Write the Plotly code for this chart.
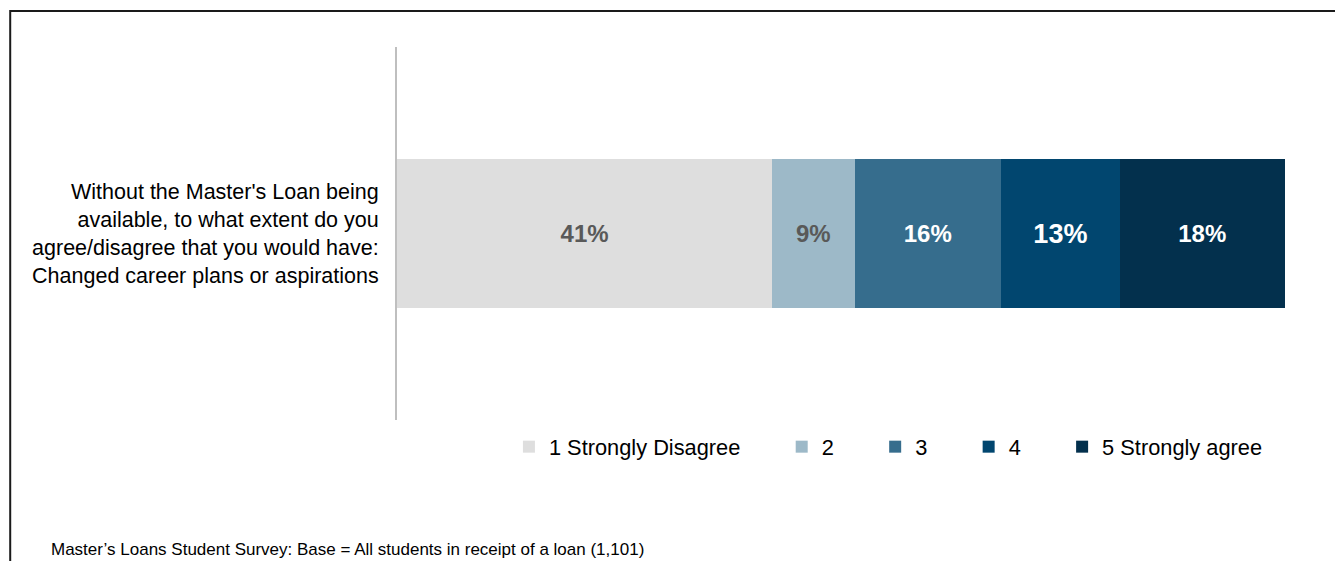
import plotly.graph_objects as go

# Data
category = ["Without the Master's Loan being<br>available, to what extent do you<br>agree/disagree that you would have:<br>Changed career plans or aspirations"]
series_names = ["1 Strongly Disagree", "2", "3", "4", "5 Strongly agree"]
series_values = [41, 9, 16, 13, 18]
series_colors = ["#DEDEDE", "#9DB9C8", "#366D8D", "#01466F", "#03304D"]
label_colors = ["#595959", "#595959", "#FFFFFF", "#FFFFFF", "#FFFFFF"]
label_sizes = [24, 24, 24, 27, 24]
footnote = "Master\u2019s Loans Student Survey: Base = All students in receipt of a loan (1,101)"

pad = ["\u00a0" * 6, "\u00a0" * 6, "\u00a0" * 6, "\u00a0" * 6, ""]

fig = go.Figure()
for name, val, col, lc, ls, p in zip(series_names, series_values, series_colors, label_colors, label_sizes, pad):
    fig.add_trace(go.Bar(
        y=category, x=[val], name=name + p, orientation="h",
        marker=dict(color=col, line=dict(width=0)),
        text=[f"{val}%"], textposition="inside", insidetextanchor="middle",
        textfont=dict(color=lc, size=ls, family="Liberation Sans, Arial", weight="bold"),
        constraintext="none", width=0.4,
    ))

OFF = 8  # page body margin
W, H = 1335, 553
L, R, T, B = 389, 30.5, 39, 141
pw = W - L - R
ph = H - T - B

def px(x):
    return (x - OFF - L) / pw

def py(y):
    return (H - B - (y - OFF)) / ph

fig.update_layout(
    width=W, height=H,
    margin=dict(l=L, r=R, t=T, b=B, autoexpand=False),
    barmode="stack",
    plot_bgcolor="white", paper_bgcolor="white",
    font=dict(family="Liberation Sans, Arial", color="#000000"),
    showlegend=True,
    legend=dict(orientation="h", x=px(509), xanchor="left", y=py(447), yanchor="middle",
                font=dict(size=21.8, color="#000000"), traceorder="normal",
                bgcolor="rgba(0,0,0,0)"),
    xaxis=dict(range=[0, 100], visible=False, fixedrange=True),
    yaxis=dict(range=[-0.5, 0.5], showline=True, linecolor="#BFBFBF", linewidth=2,
               ticks="", showgrid=False, zeroline=False,
               tickfont=dict(size=21.5, color="#000000"), ticklabelstandoff=12),
)

# Outer border
fig.add_shape(type="rect", xref="paper", yref="paper",
              x0=px(10), x1=px(1337), y0=py(600), y1=py(11),
              line=dict(color="#1A1A1A", width=2), fillcolor="rgba(0,0,0,0)", layer="below")

fig.add_annotation(text=footnote, xref="paper", yref="paper",
                   x=px(49), y=py(549), xanchor="left", yanchor="middle",
                   showarrow=False, font=dict(size=17, color="#000000"))

fig.write_html("out.html")
